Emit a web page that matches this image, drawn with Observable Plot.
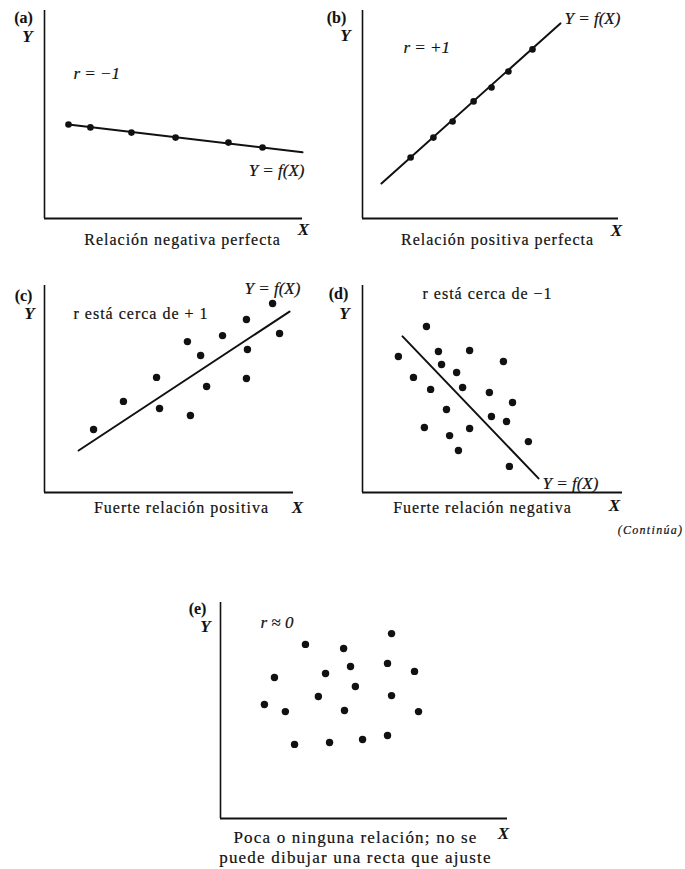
<!DOCTYPE html>
<html>
<head>
<meta charset="utf-8">
<script src="https://cdn.jsdelivr.net/npm/d3@7"></script>
<script src="https://cdn.jsdelivr.net/npm/@observablehq/plot@0.6"></script>
<style>
  body { margin: 0; background: #fff; }
  #root { position: relative; width: 685px; height: 869px; background: #fff; }
  .pan { position: absolute; }
</style>
</head>
<body>
<div id="root"></div>
<script>
// ---------- data (arbitrary units 0–100 on each panel's axes) ----------
const panelLetters = ["(a)", "(b)", "(c)", "(d)", "(e)"];
const rLabels = ["r = −1", "r = +1", "r está cerca de + 1", "r está cerca de −1", "r ≈ 0"];
const fitLabel = "Y = f(X)";
const captions = [
  ["Relación negativa perfecta"],
  ["Relación positiva perfecta"],
  ["Fuerte relación positiva"],
  ["Fuerte relación negativa"],
  ["Poca o ninguna relación; no se", "puede dibujar una recta que ajuste"]
];
const continuaLabel = "(Continúa)";

// (a) perfect negative
const aX = [9.3, 17.8, 33.7, 50.8, 71.3, 84.5];
const aY = [45.2, 43.8, 41.3, 38.9, 36.5, 34.1];
const aLineX = [9.3, 100];
const aLineY = [45.2, 31.8];

// (b) perfect positive
const bX = [18.8, 27.7, 35.2, 43.4, 50.4, 57.0, 66.4];
const bY = [29.3, 38.9, 46.6, 56.3, 63.0, 70.7, 81.3];
const bLineX = [7.4, 77.3];
const bLineY = [16.8, 93.8];

// (c) strong positive
const cX = [19.7, 31.7, 45.0, 46.2, 57.4, 58.6, 62.7, 65.1, 71.5, 81.1, 81.5, 81.1, 91.6, 94.4];
const cY = [30.4, 44.0, 55.6, 40.6, 72.9, 37.2, 66.2, 51.2, 75.8, 83.6, 69.1, 55.1, 91.3, 76.8];
const cLineX = [13.7, 98.4];
const cLineY = [20.3, 87.4];

// (d) strong negative
const dX = [24.6, 13.8, 29.2, 41.2, 54.2, 30.4, 36.2, 19.6, 38.5, 26.2, 48.8, 57.7, 32.3, 49.6, 55.4, 23.8, 41.2, 33.5, 63.8, 36.9, 56.5];
const dY = [80.2, 65.7, 68.1, 68.6, 63.3, 61.8, 58.0, 55.6, 50.7, 49.8, 48.3, 43.5, 40.1, 36.7, 34.3, 31.4, 30.9, 27.5, 24.6, 20.3, 12.6];
const dLineX = [15.4, 67.7];
const dLineY = [75.4, 6.8];

// (e) no relation
const eX = [59.6, 29.6, 42.9, 45.3, 58.2, 67.6, 18.8, 36.6, 47.0, 34.1, 59.6, 15.3, 22.6, 43.2, 69.0, 25.8, 38.0, 49.5, 58.2];
const eY = [85.6, 80.6, 78.7, 70.4, 71.8, 68.1, 65.3, 67.1, 61.1, 56.5, 56.9, 52.8, 49.5, 50.0, 49.5, 34.3, 35.2, 36.6, 38.4];

const toPts = (xs, ys) => xs.map((x, i) => ({x, y: ys[i]}));

// ---------- drawing ----------
const FONT = "'Liberation Serif', 'DejaVu Serif', serif";

function panel(o) {
  const marks = [
    Plot.ruleX([0], {strokeWidth: 1.6, stroke: "#111"}),
    Plot.ruleY([0], {strokeWidth: 2, stroke: "#111"})
  ];
  if (o.line) marks.push(Plot.line(o.line, {x: "x", y: "y", strokeWidth: 2, stroke: "#111"}));
  marks.push(Plot.dot(o.dots, {x: "x", y: "y", r: o.r, fill: "#111", stroke: "none"}));
  for (const t of o.texts) {
    marks.push(Plot.text([t.s], {
      frameAnchor: "top-left", dx: t.dx, dy: t.dy,
      textAnchor: t.a || "middle", lineAnchor: "middle",
      fontSize: t.fs || 16, fontFamily: FONT,
      fontStyle: t.it ? "italic" : "normal",
      fontWeight: t.b ? "bold" : "normal",
      fill: "#111", stroke: "#111", strokeWidth: t.b ? 0.1 : 0.2
    }));
  }
  const svg = Plot.plot({
    width: o.w, height: o.h,
    marginLeft: o.ml, marginRight: o.mr, marginTop: o.mt, marginBottom: o.mb,
    x: {domain: [0, 100], axis: null},
    y: {domain: [0, 100], axis: null},
    style: {background: "transparent", fontFamily: FONT, overflow: "visible"},
    marks
  });
  // letter spacing for the typeset captions
  const spaced = new Set(o.spaced || []);
  d3.select(svg).selectAll("text").each(function () {
    if (spaced.has(this.textContent)) d3.select(this).attr("letter-spacing", o.ls || "1px");
    if (this.textContent === continuaLabel) d3.select(this).attr("letter-spacing", "1.3px");
  });
  const div = document.createElement("div");
  div.className = "pan";
  div.style.left = o.left + "px";
  div.style.top = o.top + "px";
  div.appendChild(svg);
  document.getElementById("root").appendChild(div);
}

const axisTexts = (i, p) => [
  {s: panelLetters[i], dx: p.l[0], dy: p.l[1], b: true, fs: 16},
  {s: "Y", dx: p.y[0], dy: p.y[1], b: true, it: true, fs: 17},
  {s: "X", dx: p.x[0], dy: p.x[1], b: true, it: true, fs: 17}
];

// (a)
panel({
  left: 0, top: 0, w: 320, h: 260, ml: 44, mr: 18, mt: 10, mb: 42,
  dots: toPts(aX, aY), r: 3.3, line: toPts(aLineX, aLineY),
  spaced: captions[0],
  texts: [
    ...axisTexts(0, {l: [-21, 7], y: [-17, 26], x: [259, 219]}),
    {s: rLabels[0], dx: 29, dy: 63, a: "start", it: true, fs: 17},
    {s: fitLabel, dx: 260, dy: 160, a: "end", it: true, fs: 17},
    {s: captions[0][0], dx: 138, dy: 229}
  ]
});

// (b)
panel({
  left: 320, top: 0, w: 340, h: 260, ml: 42, mr: 42, mt: 10, mb: 42,
  dots: toPts(bX, bY), r: 3.3, line: toPts(bLineX, bLineY),
  spaced: captions[1],
  texts: [
    ...axisTexts(1, {l: [-26, 7], y: [-17, 25], x: [254, 220]}),
    {s: rLabels[1], dx: 41, dy: 37, a: "start", it: true, fs: 17},
    {s: fitLabel, dx: 202, dy: 8, a: "start", it: true, fs: 17},
    {s: captions[1][0], dx: 135, dy: 229}
  ]
});

// (c)
panel({
  left: 0, top: 265, w: 320, h: 265, ml: 44, mr: 27, mt: 20, mb: 38,
  dots: toPts(cX, cY), r: 3.7, line: toPts(cLineX, cLineY),
  spaced: [rLabels[2], captions[2][0]],
  texts: [
    ...axisTexts(2, {l: [-21, 10], y: [-15, 28], x: [253, 222]}),
    {s: rLabels[2], dx: 29, dy: 28, a: "start"},
    {s: fitLabel, dx: 200, dy: 3, a: "start", it: true, fs: 17},
    {s: captions[2][0], dx: 137, dy: 222}
  ]
});

// (d)
panel({
  left: 320, top: 265, w: 365, h: 290, ml: 42, mr: 63, mt: 20, mb: 63,
  dots: toPts(dX, dY), r: 3.7, line: toPts(dLineX, dLineY),
  spaced: [rLabels[3], captions[3][0]],
  texts: [
    ...axisTexts(3, {l: [-24, 8], y: [-18, 28], x: [252, 220]}),
    {s: rLabels[3], dx: 60, dy: 8, a: "start"},
    {s: fitLabel, dx: 180, dy: 198, a: "start", it: true, fs: 17},
    {s: captions[3][0], dx: 120, dy: 222},
    {s: continuaLabel, dx: 288, dy: 245, it: true, fs: 12}
  ]
});

// (e)
panel({
  left: 160, top: 590, w: 360, h: 279, ml: 60, mr: 13, mt: 12, mb: 51,
  dots: toPts(eX, eY), r: 3.7, line: null,
  spaced: captions[4], ls: "1.2px",
  texts: [
    ...axisTexts(4, {l: [-23, 6], y: [-15, 24], x: [283, 231]}),
    {s: rLabels[4], dx: 40, dy: 20, a: "start", it: true, fs: 17},
    {s: captions[4][0], dx: 135, dy: 235, fs: 17},
    {s: captions[4][1], dx: 135, dy: 255, fs: 17}
  ]
});
</script>
</body>
</html>
